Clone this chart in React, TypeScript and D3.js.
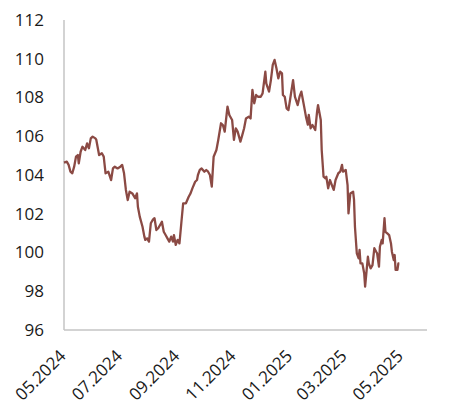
import * as d3 from "d3";

const dates = [
  "2024-05-01", "2024-05-04", "2024-05-06", "2024-05-08", "2024-05-10", "2024-05-12", "2024-05-14", "2024-05-16",
  "2024-05-17", "2024-05-19", "2024-05-21", "2024-05-24", "2024-05-26", "2024-05-28", "2024-05-30", "2024-06-01",
  "2024-06-04", "2024-06-05", "2024-06-08", "2024-06-11", "2024-06-13", "2024-06-15", "2024-06-18", "2024-06-21",
  "2024-06-23", "2024-06-25", "2024-06-28", "2024-07-01", "2024-07-03", "2024-07-05", "2024-07-07", "2024-07-09",
  "2024-07-11", "2024-07-14", "2024-07-17", "2024-07-19", "2024-07-20", "2024-07-22", "2024-07-25", "2024-07-27",
  "2024-07-28", "2024-07-30", "2024-08-01", "2024-08-03", "2024-08-05", "2024-08-07", "2024-08-09", "2024-08-11",
  "2024-08-13", "2024-08-15", "2024-08-17", "2024-08-19", "2024-08-21", "2024-08-23", "2024-08-25", "2024-08-27",
  "2024-08-28", "2024-08-30", "2024-09-01", "2024-09-03", "2024-09-05", "2024-09-07", "2024-09-10", "2024-09-13",
  "2024-09-15", "2024-09-17", "2024-09-20", "2024-09-22", "2024-09-23", "2024-09-25", "2024-09-27", "2024-09-30",
  "2024-10-02", "2024-10-04", "2024-10-06", "2024-10-08", "2024-10-10", "2024-10-13", "2024-10-15", "2024-10-18",
  "2024-10-20", "2024-10-22", "2024-10-25", "2024-10-27", "2024-10-30", "2024-11-01", "2024-11-03", "2024-11-05",
  "2024-11-08", "2024-11-10", "2024-11-12", "2024-11-14", "2024-11-17", "2024-11-19", "2024-11-21", "2024-11-23",
  "2024-11-25", "2024-11-27", "2024-11-30", "2024-12-02", "2024-12-05", "2024-12-06", "2024-12-09", "2024-12-11",
  "2024-12-13", "2024-12-15", "2024-12-17", "2024-12-19", "2024-12-21", "2024-12-23", "2024-12-24", "2024-12-26",
  "2024-12-28", "2024-12-30", "2025-01-01", "2025-01-04", "2025-01-06", "2025-01-09", "2025-01-11", "2025-01-13",
  "2025-01-16", "2025-01-18", "2025-01-20", "2025-01-21", "2025-01-23", "2025-01-25", "2025-01-28", "2025-01-30",
  "2025-01-31", "2025-02-03", "2025-02-04", "2025-02-06", "2025-02-08", "2025-02-09", "2025-02-11", "2025-02-13",
  "2025-02-15", "2025-02-17", "2025-02-19", "2025-02-22", "2025-02-24", "2025-02-26", "2025-02-27", "2025-03-02",
  "2025-03-04", "2025-03-05", "2025-03-07", "2025-03-10", "2025-03-11", "2025-03-12", "2025-03-14", "2025-03-16",
  "2025-03-17", "2025-03-18", "2025-03-20", "2025-03-22", "2025-03-23", "2025-03-25", "2025-03-26", "2025-03-27",
  "2025-03-29", "2025-03-31", "2025-04-02", "2025-04-04", "2025-04-05", "2025-04-07", "2025-04-08", "2025-04-10",
  "2025-04-11", "2025-04-13", "2025-04-14", "2025-04-16", "2025-04-18", "2025-04-20", "2025-04-21", "2025-04-23",
  "2025-04-24", "2025-04-25", "2025-04-27", "2025-04-28", "2025-04-29",
];

const values = [
  104.64, 104.69, 104.52, 104.17, 104.09, 104.43, 104.95, 105.03,
  104.6, 105.2, 105.46, 105.29, 105.63, 105.38, 105.89, 105.98,
  105.89, 105.81, 105.03, 105.12, 104.95, 104.09, 104.17, 103.74,
  104.34, 104.43, 104.34, 104.43, 104.52, 104.09, 103.23, 102.71,
  103.14, 103.05, 102.8, 103.05, 102.36, 101.85, 101.33, 100.82,
  100.65, 100.73, 100.56, 101.51, 101.68, 101.77, 101.16, 101.25,
  101.42, 101.59, 101.07, 100.9, 100.73, 100.56, 100.82, 100.56,
  100.9, 100.39, 100.65, 100.47, 101.51, 102.54, 102.54, 102.88,
  103.05, 103.31, 103.65, 103.74, 104.0, 104.26, 104.34, 104.17,
  104.26, 104.17, 104.0, 103.4, 104.94, 105.29, 105.81, 106.67,
  106.58, 106.24, 107.53, 107.1, 106.84, 105.81, 106.41, 106.24,
  105.72, 106.06, 106.41, 106.92, 107.01, 106.92, 108.39, 107.7,
  108.13, 108.04, 108.04, 108.21, 109.33, 108.73, 108.3, 108.9,
  109.68, 109.94, 109.51, 108.99, 109.33, 109.25, 108.13, 108.04,
  107.44, 107.35, 107.96, 108.9, 108.04, 107.61, 108.04, 108.3,
  107.53, 107.0, 106.6, 107.1, 106.41, 106.58, 106.32, 107.27,
  107.61, 106.84, 105.29, 103.91, 103.83, 103.91, 103.31, 103.74,
  103.48, 103.23, 103.74, 104.09, 104.17, 104.52, 104.17, 104.26,
  103.48, 102.02, 103.05, 103.14, 102.71, 101.33, 99.96, 99.7,
  100.13, 99.44, 99.44, 98.93, 98.24, 99.27, 99.78, 99.44,
  99.18, 99.35, 100.22, 100.04, 99.96, 99.27, 100.3, 100.65,
  100.47, 101.77, 101.07, 100.99, 100.9, 100.47, 100.04, 99.61,
  99.87, 99.1, 99.1, 99.44, 99.44,
];

const yTicks = [96, 98, 100, 102, 104, 106, 108, 110, 112];
const xTickLabels = ["05.2024", "07.2024", "09.2024", "11.2024", "01.2025", "03.2025", "05.2025"];

const W = 461;
const H = 419;
const margin = { top: 20, right: 34, bottom: 89, left: 64 };
const font = "'Open Sans', 'Segoe UI', sans-serif";

export default function App() {
  const parse = d3.timeParse("%Y-%m-%d");
  const tickParse = d3.timeParse("%m.%Y");
  const data = dates.map((d, i) => ({ date: parse(d) as Date, value: values[i] }));

  const x = d3
    .scaleTime()
    .domain([new Date(2024, 4, 1), new Date(2025, 4, 29)])
    .range([margin.left, W - margin.right]);

  const y = d3
    .scaleLinear()
    .domain([96, 112])
    .range([H - margin.bottom, margin.top]);

  const line = d3
    .line<{ date: Date; value: number }>()
    .x((d) => x(d.date))
    .y((d) => y(d.value));

  const y0 = H - margin.bottom;

  return (
    <svg
      width={W}
      height={H}
      style={{ position: "absolute", left: 0, top: 0, background: "#fff" }}
    >
      <line x1={margin.left} x2={margin.left} y1={margin.top} y2={y0} stroke="#c4c4c4" strokeWidth={1.5} />
      <line x1={margin.left} x2={W - margin.right} y1={y0} y2={y0} stroke="#c4c4c4" strokeWidth={1.5} />

      {yTicks.map((t) => (
        <text
          key={t}
          x={margin.left - 20}
          y={y(t)}
          dy="0.35em"
          textAnchor="end"
          fontFamily={font}
          fontSize={17}
          fill="#1a1a1a"
        >
          {t}
        </text>
      ))}

      {xTickLabels.map((l) => {
        const tx = x(tickParse(l) as Date);
        return (
          <text
            key={l}
            transform={`translate(${tx + 3},${y0 + 27}) rotate(-45)`}
            textAnchor="end"
            fontFamily={font}
            fontSize={17}
            fill="#1a1a1a"
          >
            {l}
          </text>
        );
      })}

      <path
        d={line(data) ?? ""}
        fill="none"
        stroke="#8b4a44"
        strokeWidth={2.3}
        strokeLinejoin="round"
      />
    </svg>
  );
}
